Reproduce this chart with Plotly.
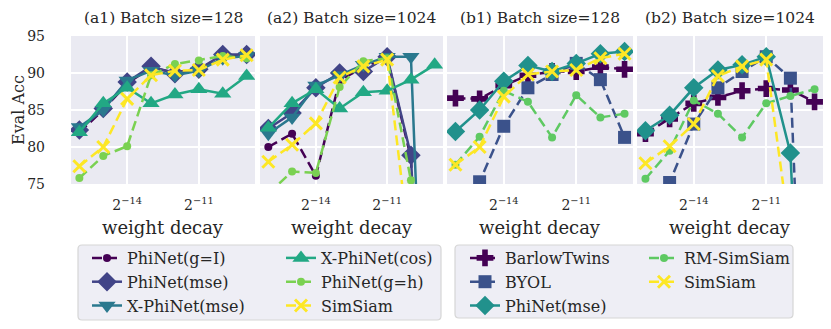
import plotly.graph_objects as go

# weight decay exponents (base 2)
exps = [-16, -15, -14, -13, -12, -11, -10, -9]
wd = [2.0 ** e for e in exps]

# (a) PhiNet variants
a_names = ["PhiNet(g=I)", "PhiNet(mse)", "X-PhiNet(mse)", "X-PhiNet(cos)", "PhiNet(g=h)", "SimSiam"]
a1_gI = [82.0, 85.0, 88.6, 90.7, 90.1, 90.5, 92.3, 92.5]
a1_mse = [82.3, 85.2, 88.8, 90.9, 89.9, 90.5, 92.5, 92.5]
a1_xmse = [82.7, 85.0, 89.0, 90.3, 89.7, 90.3, 92.0, 92.3]
a1_xcos = [82.0, 85.9, 88.0, 85.9, 87.1, 87.8, 87.2, 89.6]
a1_gh = [75.8, 78.8, 80.1, 89.7, 91.2, 91.7, 92.3, 92.0]
a1_simsiam = [77.4, 80.0, 86.5, 89.7, 90.3, 90.4, 91.8, 92.4]

a2_gI = [80.0, 81.8, 76.1, 89.0, 90.8, 92.1, 78.5, 10.0]
a2_mse = [82.5, 84.6, 88.0, 90.0, 90.2, 92.2, 78.9, 10.0]
a2_xmse = [81.8, 84.0, 88.3, 89.7, 91.1, 92.2, 92.2, 10.0]
a2_xcos = [82.6, 85.9, 87.8, 85.2, 87.4, 87.6, 89.1, 91.1]
a2_gh = [73.7, 76.7, 76.5, 88.1, 91.6, 92.0, 75.5, 10.0]
a2_simsiam = [78.0, 80.3, 83.2, 89.4, 90.9, 91.8, 65.0, 10.0]

# (b) baselines
b_names = ["BarlowTwins", "BYOL", "PhiNet(mse)", "RM-SimSiam", "SimSiam"]
b1_barlow = [86.6, 86.5, 88.3, 89.7, 90.2, 90.2, 90.8, 90.5]
b1_byol = [72.0, 75.3, 82.8, 88.0, 89.8, 91.3, 89.1, 81.3]
b1_phinet = [82.1, 85.0, 88.9, 91.0, 90.2, 91.3, 92.6, 92.9]
b1_rm = [77.6, 81.4, 87.6, 86.1, 81.3, 87.0, 84.0, 84.5]
b1_simsiam = [77.6, 80.0, 86.8, 89.8, 90.2, 90.4, 92.0, 92.6]

b2_barlow = [81.8, 83.8, 85.9, 86.7, 87.6, 87.9, 87.7, 86.1]
b2_byol = [72.0, 75.2, 83.1, 88.0, 90.2, 92.2, 89.3, 10.0]
b2_phinet = [82.2, 84.3, 88.0, 90.4, 91.1, 92.2, 79.2, 10.0]
b2_rm = [75.7, 79.5, 86.3, 84.5, 81.3, 85.9, 86.9, 87.8]
b2_simsiam = [77.8, 80.1, 83.1, 89.6, 90.9, 91.8, 67.7, 10.0]

titles = ["(a1) Batch size=128", "(a2) Batch size=1024", "(b1) Batch size=128", "(b2) Batch size=1024"]

W, H = 831, 329
OFF = 8  # page body margin
FONT = "DejaVu Serif"
TXT = "#262626"


def px(x):
    return (x - OFF) / W


def py(y):
    return 1 - (y - OFF) / H


# style per series: color, symbol, marker size, dashed
a_style = [
    ("#440154", "circle", 8, True),
    ("#414487", "diamond", 15, False),
    ("#2a788e", "triangle-down", 15, False),
    ("#22a884", "triangle-up", 15, False),
    ("#7ad151", "circle", 8, True),
    ("#fde725", "x-thin", 12, True),
]
b_style = [
    ("#440154", "cross", 14, True),
    ("#3b528b", "square", 13, True),
    ("#21918c", "diamond", 15, False),
    ("#5ec962", "circle", 8, True),
    ("#fde725", "x-thin", 12, True),
]

panels = [
    (a_names, a_style, [a1_gI, a1_mse, a1_xmse, a1_xcos, a1_gh, a1_simsiam]),
    (a_names, a_style, [a2_gI, a2_mse, a2_xmse, a2_xcos, a2_gh, a2_simsiam]),
    (b_names, b_style, [b1_barlow, b1_byol, b1_phinet, b1_rm, b1_simsiam]),
    (b_names, b_style, [b2_barlow, b2_byol, b2_phinet, b2_rm, b2_simsiam]),
]

xdom_px = [(71, 255), (260, 443), (447, 633), (637, 823)]
ydom = [py(184), py(36)]

fig = go.Figure()

for p, (names, styles, series) in enumerate(panels):
    ax = "" if p == 0 else str(p + 1)
    for i, (name, (col, sym, size, dashed), ys) in enumerate(zip(names, styles, series)):
        show = p in (0, 2)
        if p < 2:
            leg = "legend" if i < 3 else "legend2"
        else:
            leg = "legend3" if i < 3 else "legend4"
        if sym == "x-thin":
            marker = dict(symbol=sym, size=size, color=col, line=dict(color=col, width=3))
        else:
            marker = dict(symbol=sym, size=size, color=col, line=dict(width=0))
        fig.add_trace(go.Scatter(
            x=wd, y=ys, name=name, mode="lines+markers",
            line=dict(color=col, width=2.5, dash="10px,5px" if dashed else "solid"),
            marker=marker,
            xaxis="x" + ax, yaxis="y" + ax,
            showlegend=show, legend=leg,
        ))

ticks_x = [2.0 ** -14, 2.0 ** -11]
ticks_txt = ["2<sup>−14</sup>", "2<sup>−11</sup>"]
xr = [-16.35 * 0.30103, -8.65 * 0.30103]

layout = dict(
    width=W, height=H,
    margin=dict(l=0, r=0, t=0, b=0, autoexpand=False),
    paper_bgcolor="white",
    plot_bgcolor="#eaeaf2",
    font=dict(family=FONT, color=TXT, size=14),
)
for p in range(4):
    ax = "" if p == 0 else str(p + 1)
    x0, x1 = xdom_px[p]
    layout["xaxis" + ax] = dict(
        type="log", domain=[px(x0), px(x1)], range=xr, anchor="y" + ax,
        tickvals=ticks_x, ticktext=ticks_txt, showgrid=True, gridcolor="white",
        gridwidth=1.6, zeroline=False, showline=False, ticks="",
        tickfont=dict(size=14), ticklabelstandoff=11, automargin=False,
    )
    layout["yaxis" + ax] = dict(
        domain=ydom, range=[75, 95], anchor="x" + ax,
        tickvals=[75, 80, 85, 90, 95], showticklabels=(p == 0),
        showgrid=True, gridcolor="white", gridwidth=1.6, zeroline=False,
        showline=False, ticks="", tickfont=dict(size=14), ticklabelstandoff=25,
        automargin=False,
    )
fig.update_layout(**layout)

annotations = []
for p in range(4):
    x0, x1 = xdom_px[p]
    xc = px((x0 + x1) / 2)
    annotations.append(dict(text=titles[p], x=xc, y=py(18), xref="paper", yref="paper",
                            xanchor="center", yanchor="middle",
                            showarrow=False, font=dict(size=15.5)))
    annotations.append(dict(text="weight decay", x=xc, y=py(227), xref="paper", yref="paper",
                            xanchor="center", yanchor="middle",
                            showarrow=False, font=dict(size=18)))
annotations.append(dict(text="Eval Acc", x=px(18), y=py(110), xref="paper", yref="paper",
                        xanchor="center", yanchor="middle",
                        showarrow=False, textangle=-90, font=dict(size=16)))
fig.update_layout(annotations=annotations)


def rounded_box(px0, py0, px1, py1, r=4):
    x0, x1 = px(px0), px(px1)
    y0, y1 = py(py1), py(py0)
    rx, ry = r / W, r / H
    return (f"M {x0 + rx},{y1} L {x1 - rx},{y1} Q {x1},{y1} {x1},{y1 - ry} "
            f"L {x1},{y0 + ry} Q {x1},{y0} {x1 - rx},{y0} L {x0 + rx},{y0} "
            f"Q {x0},{y0} {x0},{y0 + ry} L {x0},{y1 - ry} Q {x0},{y1} {x0 + rx},{y1} Z")


fig.update_layout(shapes=[
    dict(type="path", path=rounded_box(78, 245, 441, 320), xref="paper", yref="paper",
         fillcolor="#eeeef5", line=dict(color="#d6d6d6", width=1.2), layer="below"),
    dict(type="path", path=rounded_box(455, 245, 793, 318), xref="paper", yref="paper",
         fillcolor="#eeeef5", line=dict(color="#d6d6d6", width=1.2), layer="below"),
])

leg_common = dict(xanchor="left", yanchor="top", bgcolor="rgba(0,0,0,0)", borderwidth=0,
                  font=dict(size=16, family=FONT, color=TXT), tracegroupgap=0,
                  orientation="v", itemwidth=30)
fig.update_layout(
    legend=dict(x=px(87), y=py(241), **leg_common),
    legend2=dict(x=px(281), y=py(241), **leg_common),
    legend3=dict(x=px(465), y=py(241), **leg_common),
    legend4=dict(x=px(644), y=py(241), **leg_common),
)

fig.write_html("out.html")
